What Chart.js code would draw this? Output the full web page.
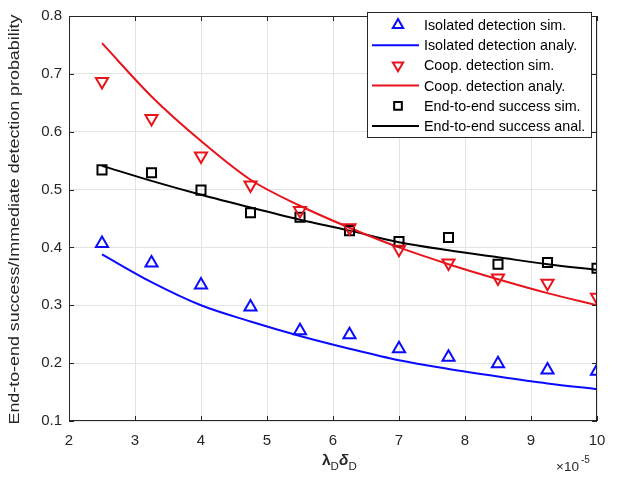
<!DOCTYPE html>
<html><head><meta charset="utf-8">
<script src="https://cdn.jsdelivr.net/npm/chart.js@4.4.1/dist/chart.umd.min.js"></script>
<style>html,body{margin:0;padding:0;background:#fff}#wrap{width:618px;height:480px}</style>
</head><body><div id="wrap"><canvas id="c" width="618" height="480"></canvas></div>
<script>
const xValues = [2.5, 3.25, 4, 4.75, 5.5, 6.25, 7, 7.75, 8.5, 9.25, 10];
const isoSim   = [0.407, 0.373, 0.335, 0.297, 0.256, 0.249, 0.225, 0.210, 0.199, 0.188, 0.186];
const isoAnaly = [0.388, 0.340, 0.300, 0.272, 0.247, 0.225, 0.205, 0.190, 0.177, 0.165, 0.155];
const coopSim   = [0.687, 0.623, 0.558, 0.508, 0.464, 0.434, 0.397, 0.373, 0.347, 0.338, 0.314];
const coopAnaly = [0.753, 0.661, 0.584, 0.517, 0.472, 0.434, 0.400, 0.371, 0.345, 0.321, 0.300];
const e2eSim   = [0.534, 0.529, 0.499, 0.460, 0.452, 0.429, 0.410, 0.417, 0.371, 0.374, 0.364];
const e2eAnaly = [0.541, 0.515, 0.491, 0.469, 0.448, 0.429, 0.409, 0.395, 0.383, 0.371, 0.361];
const xTicks = [2, 3, 4, 5, 6, 7, 8, 9, 10];
const yTicks = [0.1, 0.2, 0.3, 0.4, 0.5, 0.6, 0.7, 0.8];
const labels = ["Isolated detection sim.", "Isolated detection analy.", "Coop. detection sim.", "Coop. detection analy.", "End-to-end success sim.", "End-to-end success anal."];
const yTitle = "End-to-end success/Immediate detection probability";

const BLUE = '#0a0aff', RED = '#e8141c', BLACK = '#000000';
const pts = arr => xValues.map((x, i) => ({x: x, y: arr[i]}));
const FONT = "'Liberation Sans', Arial, sans-serif";

function simDs(label, data, color, style, rot, r) {
  return {label, data: pts(data), showLine: false, borderColor: color, backgroundColor: 'rgba(0,0,0,0)',
    pointStyle: style, rotation: rot, pointRadius: r, pointHoverRadius: r, pointBorderWidth: 2, order: 0};
}
function lineDs(label, data, color) {
  return {label, data: pts(data), showLine: true, borderColor: color, borderWidth: 2, pointRadius: 0,
    tension: 0.4, cubicInterpolationMode: 'monotone', fill: false, order: 1};
}

const datasets = [
  simDs(labels[0], isoSim, BLUE, 'triangle', 0, 7),
  lineDs(labels[1], isoAnaly, BLUE),
  simDs(labels[2], coopSim, RED, 'triangle', 180, 7),
  lineDs(labels[3], coopAnaly, RED),
  simDs(labels[4], e2eSim, BLACK, 'rect', 0, 6.4),
  lineDs(labels[5], e2eAnaly, BLACK)
];

const decor = {
  id: 'decor',
  afterDatasetsDraw(chart) {
    const ctx = chart.ctx, a = chart.chartArea;
    const xs = chart.scales.x, ys = chart.scales.y;
    ctx.save();
    // box
    ctx.strokeStyle = '#262626'; ctx.lineWidth = 1;
    ctx.strokeRect(a.left + 0.5, a.top + 0.5, a.right - a.left - 1, a.bottom - a.top - 1);
    // inward ticks
    ctx.beginPath();
    xTicks.forEach(t => { const p = Math.round(xs.getPixelForValue(t)) + 0.5;
      ctx.moveTo(p, a.bottom); ctx.lineTo(p, a.bottom - 5); ctx.moveTo(p, a.top); ctx.lineTo(p, a.top + 5); });
    yTicks.forEach(t => { const p = Math.round(ys.getPixelForValue(t)) + 0.5;
      ctx.moveTo(a.left, p); ctx.lineTo(a.left + 5, p); ctx.moveTo(a.right, p); ctx.lineTo(a.right - 5, p); });
    ctx.stroke();
    // y title
    ctx.fillStyle = '#262626';
    ctx.font = '15px ' + FONT;
    ctx.textAlign = 'center'; ctx.textBaseline = 'middle';
    const tw0 = ctx.measureText(yTitle).width;
    ctx.save(); ctx.translate(15, (a.top + a.bottom) / 2 + 1); ctx.rotate(-Math.PI / 2);
    ctx.scale(410 / tw0, 1);
    ctx.fillText(yTitle, 0, 0); ctx.restore();
    // x title: lambda_D delta_D
    ctx.textAlign = 'left'; ctx.textBaseline = 'alphabetic';
    const parts = [['λ', 'bold 15.5px ' + FONT, 0], ['D', '11.5px ' + FONT, 5], ['δ', 'bold italic 15.5px ' + FONT, 0], ['D', '11.5px ' + FONT, 5]];
    let x0 = 322;
    parts.forEach(p => { ctx.font = p[1]; ctx.fillText(p[0], x0, 465 + p[2]); x0 += ctx.measureText(p[0]).width; });
    // exponent
    ctx.font = '13.5px ' + FONT;
    ctx.fillText('×10', 556, 471);
    ctx.font = '10px ' + FONT;
    ctx.fillText('-5', 581, 463);
    // legend
    const lx = 367, ly = 12, lw = 224, lh = 125;
    ctx.fillStyle = '#ffffff'; ctx.fillRect(lx, ly, lw, lh);
    ctx.strokeStyle = '#262626'; ctx.lineWidth = 1; ctx.strokeRect(lx + 0.5, ly + 0.5, lw, lh);
    ctx.font = '14.3px ' + FONT; ctx.textBaseline = 'middle';
    chart.data.datasets.forEach((ds, i) => {
      const cy = ly + 13 + i * 20.2;
      if (ds.showLine) {
        ctx.strokeStyle = ds.borderColor; ctx.lineWidth = 2;
        ctx.beginPath(); ctx.moveTo(lx + 5, cy); ctx.lineTo(lx + 52, cy); ctx.stroke();
      } else {
        const mx = lx + 31;
        ctx.save(); ctx.strokeStyle = ds.borderColor; ctx.lineWidth = 2;
        ctx.beginPath();
        const r = ds.pointRadius * 0.85;
        if (ds.pointStyle === 'rect') { const s = r * Math.SQRT1_2; ctx.rect(mx - s, cy - s, 2 * s, 2 * s); }
        else { const dir = ds.rotation === 180 ? -1 : 1; const h = r;
          ctx.moveTo(mx, cy - dir * h); ctx.lineTo(mx + h * 0.866, cy + dir * h * 0.5); ctx.lineTo(mx - h * 0.866, cy + dir * h * 0.5); ctx.closePath(); }
        ctx.stroke(); ctx.restore();
      }
      ctx.fillStyle = '#000';
      ctx.fillText(ds.label, lx + 57, cy + 1);
    });
    ctx.restore();
  }
};

new Chart(document.getElementById('c'), {
  type: 'scatter',
  data: {datasets},
  options: {
    responsive: false, animation: false, devicePixelRatio: 1,
    layout: {padding: {left: 0, right: 21, top: 12, bottom: 0}},
    plugins: {legend: {display: false}, tooltip: {enabled: false}, title: {display: false}},
    scales: {
      x: {type: 'linear', min: 2, max: 10,
        afterBuildTicks: s => { s.ticks = xTicks.map(v => ({value: v})); },
        afterFit: s => { s.height = 59; },
        grid: {color: '#e3e3e3', drawTicks: false, lineWidth: 1},
        border: {display: false},
        ticks: {padding: 11, color: '#262626', font: {family: FONT, size: 15}, callback: v => String(v), maxRotation: 0}
      },
      y: {type: 'linear', min: 0.1, max: 0.8,
        afterBuildTicks: s => { s.ticks = yTicks.map(v => ({value: v})); },
        afterFit: s => { s.width = 69; },
        grid: {color: '#e3e3e3', drawTicks: false, lineWidth: 1},
        border: {display: false},
        ticks: {padding: 7, color: '#262626', font: {family: FONT, size: 15}, callback: v => v.toFixed(1)}
      }
    }
  },
  plugins: [decor]
});
</script>
</body></html>
